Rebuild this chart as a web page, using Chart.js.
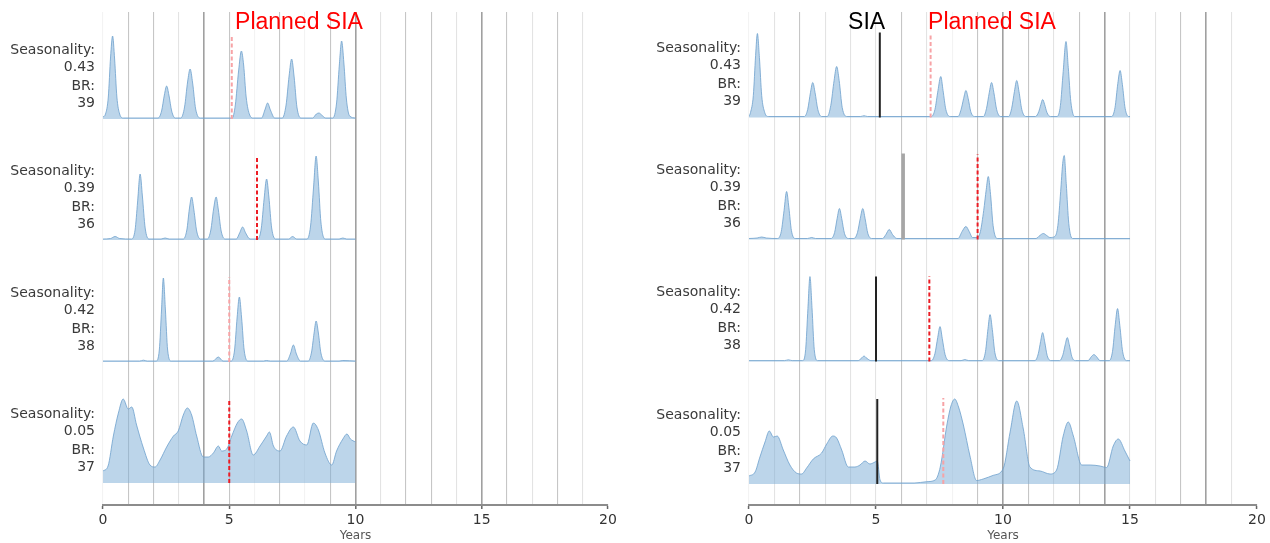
<!DOCTYPE html>
<html><head><meta charset="utf-8">
<script src="https://cdn.jsdelivr.net/npm/chart.js@4.4.1/dist/chart.umd.min.js"></script>
<style>
html,body{margin:0;padding:0;background:#fff;width:1270px;height:543px;overflow:hidden}
canvas{position:absolute;top:0}
#cL{left:0}#cR{left:635px}
</style></head><body>
<canvas id="cL" width="635" height="543"></canvas>
<canvas id="cR" width="635" height="543"></canvas>
<script>
// ---------- DATA (years, relative incidence) ----------
const xTickLabels = ['0','5','10','15','20'];
const rowLabels = [
  ['Seasonality:','0.43','BR:','39'],
  ['Seasonality:','0.39','BR:','36'],
  ['Seasonality:','0.42','BR:','38'],
  ['Seasonality:','0.05','BR:','37']
];
// Left panel (planned SIA only), simulated to year 10
const L1 = [[0,2],[0.1,5],[0.21,22],[0.3,62],[0.38,83],[0.46,60],[0.55,22],[0.66,5],[0.8,1],
[2.18,1],[2.32,8],[2.43,24],[2.52,33],[2.61,24],[2.72,8],[2.86,1],
[3.08,1],[3.23,12],[3.35,37],[3.45,50],[3.55,36],[3.67,10],[3.86,1],
[5.12,1],[5.24,14],[5.37,48],[5.48,68],[5.57,54],[5.67,22],[5.81,4],[5.95,1],
[6.28,1],[6.41,9],[6.52,16],[6.63,9],[6.8,1],
[7.1,1],[7.25,14],[7.37,43],[7.47,60],[7.57,42],[7.68,12],[7.84,1],
[8.3,1],[8.45,5],[8.55,6],[8.66,4],[8.82,1],
[9.1,1],[9.25,16],[9.36,54],[9.45,78],[9.54,56],[9.64,20],[9.77,3],[10,1]];
const L2 = [[0,1],[0.3,1.5],[0.48,3.5],[0.66,1.5],[1.13,1],[1.27,10],[1.37,38],[1.47,66],[1.56,44],[1.67,12],[1.82,1],
[2.3,1],[2.46,2],[2.62,1],
[3.18,1],[3.32,10],[3.42,31],[3.51,43],[3.6,30],[3.71,9],[3.86,1],
[4.13,1],[4.27,10],[4.38,31],[4.48,43],[4.57,30],[4.68,9],[4.84,1],
[5.28,1],[5.41,7],[5.53,13],[5.65,7],[5.82,1],
[6.13,1],[6.27,12],[6.38,41],[6.48,61],[6.57,43],[6.68,12],[6.84,1],
[7.35,1],[7.51,3.5],[7.67,1],
[8.08,1],[8.22,14],[8.34,53],[8.44,84],[8.53,58],[8.63,18],[8.8,1],
[9.35,1],[9.5,2],[9.65,1],[10,1]];
const L3 = [[0,1],[1.45,1],[1.6,1.8],[1.75,1],
[2.1,1],[2.23,12],[2.32,53],[2.39,84],[2.47,53],[2.56,12],[2.7,1],
[4.35,1],[4.57,5],[4.75,1],
[5.08,1],[5.21,12],[5.31,44],[5.4,65],[5.49,44],[5.59,12],[5.74,1],
[6.35,1],[6.48,1.5],[6.62,1],
[7.28,1],[7.42,8],[7.54,17],[7.66,8],[7.82,1],
[8.13,1],[8.26,10],[8.36,29],[8.44,41],[8.53,29],[8.63,9],[8.8,1],
[9.35,1],[9.5,1.5],[10,1]];
const L4 = [[0,12],[0.2,17],[0.41,47],[0.61,70],[0.8,84],[1.0,74],[1.14,76],[1.33,58],[1.6,35],[1.86,18],[2.06,16],[2.26,23],[2.52,36],[2.79,47],[2.98,52],[3.18,68],[3.34,75],[3.51,68],[3.71,47],[3.97,26],[4.17,26],[4.37,30],[4.57,37],[4.7,32],[4.9,34],[5.1,47],[5.32,60],[5.49,64],[5.69,52],[5.95,28],[6.22,37],[6.48,47],[6.59,51],[6.75,37],[7.01,32],[7.27,47],[7.54,56],[7.8,42],[8.07,38],[8.33,60],[8.53,53],[8.79,30],[9.06,18],[9.25,32],[9.5,44],[9.66,49],[9.8,44],[10,41]];
const leftPlannedX = [5.1, 6.1, 5.0, 5.0];
const leftPlannedTop = [84, 83, 85, 84];

// Right panel (SIA + planned SIA), simulated to year 15
const R1 = [[0,1],[0.06,5],[0.17,22],[0.26,62],[0.33,84],[0.41,60],[0.5,22],[0.62,5],[0.76,1],
[2.18,1],[2.31,8],[2.42,25],[2.51,35],[2.6,25],[2.71,8],[2.86,1],
[3.08,1],[3.22,12],[3.35,37],[3.45,51],[3.55,37],[3.67,10],[3.86,1],
[4.4,1],[4.53,1.8],[4.66,1],
[7.18,1],[7.32,8],[7.44,27],[7.55,41],[7.64,27],[7.75,8],[7.92,1],
[8.23,1],[8.35,8],[8.45,19],[8.54,27],[8.63,19],[8.73,6],[8.88,1],
[9.23,1],[9.35,9],[9.46,25],[9.55,35],[9.64,25],[9.75,8],[9.9,1],
[10.22,1],[10.34,9],[10.45,26],[10.54,37],[10.63,26],[10.74,8],[10.9,1],
[11.28,1],[11.41,6],[11.49,13],[11.56,18],[11.64,13],[11.73,5],[11.87,1],
[12.13,1],[12.26,12],[12.37,46],[12.48,76],[12.57,50],[12.67,16],[12.82,1],
[14.28,1],[14.41,10],[14.52,34],[14.61,47],[14.7,33],[14.81,9],[14.95,1],[15,1]];
const R2 = [[0,1],[0.32,1.5],[0.5,2.5],[0.68,1.5],[1.13,1],[1.27,8],[1.38,29],[1.48,48],[1.57,32],[1.67,9],[1.82,1],
[2.3,1],[2.47,2],[2.62,1],
[3.23,1],[3.37,7],[3.47,21],[3.56,31],[3.65,21],[3.76,6],[3.92,1],
[4.13,1],[4.27,7],[4.38,21],[4.48,31],[4.57,21],[4.68,6],[4.84,1],
[5.26,1],[5.39,5],[5.52,10],[5.65,5],[5.82,1],
[8.23,1],[8.39,8],[8.54,13],[8.67,8],[8.8,2],[9.0,2],
[9.11,8],[9.24,29],[9.34,50],[9.42,63],[9.51,45],[9.61,14],[9.77,1],
[11.3,1],[11.45,4],[11.59,6],[11.72,4],[11.85,2],
[12.04,3],[12.16,14],[12.27,48],[12.35,76],[12.41,84],[12.49,56],[12.59,16],[12.74,1],[15,1]];
const R3 = [[0,1],[1.4,1],[1.55,1.8],[1.7,1],
[2.11,1],[2.23,12],[2.32,53],[2.4,85],[2.48,54],[2.57,12],[2.7,1],
[4.3,1],[4.43,3.5],[4.53,5.5],[4.63,3.5],[4.8,1],
[7.18,1],[7.32,8],[7.43,24],[7.52,35],[7.61,23],[7.72,7],[7.88,1],
[8.35,1],[8.5,2],[8.65,1],
[9.18,1],[9.31,10],[9.41,33],[9.49,47],[9.58,32],[9.68,9],[9.84,1],
[11.26,1],[11.39,8],[11.48,20],[11.56,29],[11.64,20],[11.74,6],[11.89,1],
[12.23,1],[12.36,7],[12.45,17],[12.53,24],[12.61,17],[12.71,5],[12.86,1],
[13.35,1],[13.48,5],[13.58,7],[13.68,5],[13.82,1],
[14.18,1],[14.31,10],[14.42,37],[14.51,53],[14.6,36],[14.71,10],[14.87,1],[15,1]];
const R4 = [[0,8],[0.24,12],[0.43,27],[0.63,42],[0.8,53],[0.96,47],[1.11,48],[1.35,34],[1.61,19],[1.87,11],[2.07,10],[2.27,16],[2.53,25],[2.86,31],[3.06,40],[3.3,48],[3.45,46],[3.65,34],[3.91,17],[4.17,17],[4.37,19],[4.57,23],[4.76,20],[4.96,22],[5.05,23],[5.16,4],[5.29,1],[6.5,1],[7.0,2.3],[7.33,4],[7.53,17],[7.79,59],[7.95,78],[8.1,85],[8.25,77],[8.44,59],[8.7,28],[8.96,3.5],[9.22,5],[9.62,8.7],[10.01,15.5],[10.28,52],[10.54,83],[10.8,55],[11.06,17],[11.46,13],[11.85,10],[12.11,14],[12.37,48],[12.57,62],[12.77,48],[13.1,19],[13.43,19],[13.82,18],[14.08,16.5],[14.34,38],[14.54,45],[14.8,33],[15,23]];
const rightSiaX = [5.15, 6.07, 5.0, 5.05];
const rightSiaTop = [85, 86, 85, 85];
const rightPlannedX = [7.15, 9.0, 7.1, 7.65];
const rightPlannedTop = [82, 85, 85, 86];

// ---------- STYLE ----------
const SH = {n:'rgba(0,0,0,0)', f:'#f3f3f3', l:'#e3e3e3', m:'#c6c6c6', d:'#a0a0a0'};
const leftGrid  = 'fmmldmfmfmdlmmldmlmln'.split('');
const rightGrid = 'flmlllmlfmdmlmdllmdln'.split('');
const PINK = '#f7a3a6', RED = '#ec1c24';

Chart.defaults.font.family = 'DejaVu Sans';

const textPlugin = {
  id: 'panelText',
  afterDraw(chart, args, o) {
    const ctx = chart.ctx, ca = chart.chartArea, xs = chart.scales.x;
    ctx.save();
    ctx.font = '14px "DejaVu Sans"';
    ctx.fillStyle = '#3a3a3a';
    ctx.textAlign = 'right';
    ctx.textBaseline = 'middle';
    const offs = [69, 52, 33, 16];
    for (let i = 0; i < 4; i++) {
      const y0 = chart.scales['r' + (i + 1)].getPixelForValue(0);
      rowLabels[i].forEach((t, k) => ctx.fillText(t, ca.left - 8, y0 - offs[k]));
    }
    ctx.font = '23px "Liberation Sans"';
    ctx.textAlign = 'left';
    ctx.textBaseline = 'alphabetic';
    o.titles.forEach(t => { ctx.fillStyle = t.color; ctx.fillText(t.text, xs.getPixelForValue(t.at), ca.top + 17); });
    ctx.restore();
  }
};

function makePanel(id, cfg) {
  const datasets = [];
  cfg.rows.forEach((r, i) => {
    datasets.push({data: r, yAxisID: 'r' + (i + 1), borderColor: 'rgba(110,160,205,0.8)', borderWidth: 1,
      backgroundColor: 'rgba(122,172,214,0.5)', fill: 'origin', pointRadius: 0, tension: 0.35,
      cubicInterpolationMode: 'monotone', order: 1});
  });
  cfg.markers.forEach(m => {
    m.xs.forEach((x, i) => {
      datasets.push({data: [[x, 0], [x, m.tops[i]]], yAxisID: 'r' + (i + 1), borderColor: m.colors[i],
        borderWidth: m.widths[i], borderDash: m.dash, pointRadius: 0, fill: false, order: -1});
    });
  });
  const scales = {
    x: {type: 'linear', min: 0, max: 20, position: 'bottom',
      ticks: {stepSize: 1, autoSkip: false, maxRotation: 0, padding: 3, color: '#333', font: {size: 14},
        callback: v => (v % 5 === 0 ? xTickLabels[v / 5] : '')},
      grid: {color: c => SH[cfg.grid[Math.round(c.tick.value)]],
        lineWidth: c => (cfg.grid[Math.round(c.tick.value)] === 'd' ? 1.6 : 1.1),
        drawTicks: true, tickLength: 4, tickWidth: 1.5,
        tickColor: c => (c.tick && c.tick.value % 5 === 0 ? '#666' : 'rgba(0,0,0,0)')},
      border: {color: '#8c8c8c', width: 2},
      title: {display: true, text: 'Years', color: '#555', font: {size: 12}, padding: {top: 0, bottom: 0}},
      afterFit(s) { s.height = 38; }
    }
  };
  // stacked row axes: the first declared is placed at the bottom, so declare row 4 first
  for (let i = 3; i >= 0; i--) {
    scales['r' + (i + 1)] = {type: 'linear', position: 'left', stack: 'rows', stackWeight: 1,
      min: cfg.yMin[i], max: cfg.yMax[i], ticks: {display: false}, grid: {display: false},
      border: {display: false}, afterFit(s) { s.width = 0; }};
  }
  return new Chart(document.getElementById(id), {
    type: 'line',
    data: {datasets},
    options: {
      responsive: false, animation: false, events: [],
      layout: {padding: cfg.padding},
      scales,
      plugins: {legend: {display: false}, tooltip: {enabled: false}, panelText: {titles: cfg.titles}}
    },
    plugins: [textPlugin]
  });
}

makePanel('cL', {
  rows: [L1, L2, L3, L4],
  grid: leftGrid,
  yMin: [-16.25, -18.5, -19.75, -22], yMax: [107, 104.75, 103.5, 101.25],
  padding: {left: 103, right: 27, top: 12, bottom: 0},
  markers: [{xs: leftPlannedX, tops: leftPlannedTop, colors: [PINK, RED, PINK, RED], widths: [2, 2, 2, 2], dash: [4, 2.5]}],
  titles: [{text: 'Planned SIA', at: 5.23, color: '#ff0000'}]
});
makePanel('cR', {
  rows: [R1, R2, R3, R4],
  grid: rightGrid,
  yMin: [-17.75, -19, -20.15, -21], yMax: [105.5, 104.25, 103.1, 102.25],
  padding: {left: 114, right: 13, top: 12, bottom: 0},
  markers: [
    {xs: rightSiaX, tops: rightSiaTop, colors: ['#222', '#a6a6a6', '#222', '#222'], widths: [2, 3.5, 2, 2], dash: []},
    {xs: rightPlannedX, tops: rightPlannedTop, colors: [PINK, RED, RED, PINK], widths: [2, 2, 2, 2], dash: [4, 2.5]}
  ],
  titles: [{text: 'SIA', at: 3.9, color: '#000'}, {text: 'Planned SIA', at: 7.05, color: '#ff0000'}]
});
</script></body></html>
